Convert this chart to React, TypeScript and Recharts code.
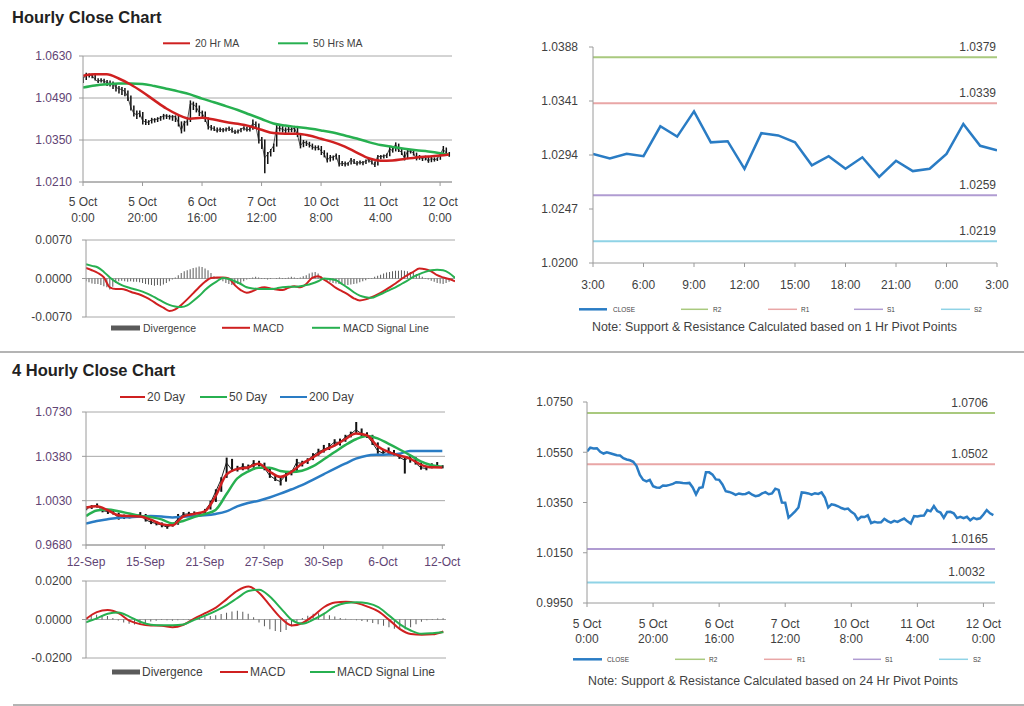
import React from 'react';
import { ComposedChart, Line, Bar, XAxis, YAxis, CartesianGrid, ReferenceLine } from 'recharts';

const FONT = "'Liberation Sans', Arial, Helvetica, sans-serif";
const GRID = '#a8a8a8';
const AXIS = '#9a9a9a';
const PURPLE = '#5f4474';
const GRAY = '#3f3f3f';
const RED = '#cf2020';
const GREEN = '#27b050';
const BLUE = '#2a7cc4';
const DIV = '#5a5a5a';
const R2C = '#a9c97e';
const R1C = '#e9a6a6';
const S1C = '#b09cd2';
const S2C = '#8fd3e6';

// ---------- Hourly (5 Oct 0:00 .. 12 Oct 3:00), index = hour ----------
const hourlyClose = [
  1.0553, 1.0568, 1.0565, 1.0566, 1.0552, 1.0545, 1.0550, 1.0546, 1.0542, 1.0538,
  1.0537, 1.0526, 1.0521, 1.0518, 1.0512, 1.0495, 1.0460, 1.0440, 1.0434, 1.0440,
  1.0415, 1.0410, 1.0409, 1.0418, 1.0417, 1.0420, 1.0424, 1.0431, 1.0430, 1.0428,
  1.0427, 1.0428, 1.0410, 1.0382, 1.0408, 1.0411, 1.0470, 1.0470, 1.0461, 1.0442,
  1.0440, 1.0422, 1.0395, 1.0392, 1.0387, 1.0380, 1.0386, 1.0383, 1.0384, 1.0390,
  1.0381, 1.0375, 1.0378, 1.0386, 1.0391, 1.0383, 1.0386, 1.0405, 1.0400, 1.0350,
  1.0349, 1.0290, 1.0302, 1.0315, 1.0330, 1.0390, 1.0389, 1.0386, 1.0381, 1.0387,
  1.0384, 1.0390, 1.0370, 1.0330, 1.0343, 1.0340, 1.0335, 1.0328, 1.0323, 1.0326,
  1.0313, 1.0304, 1.0282, 1.0293, 1.0292, 1.0299, 1.0268, 1.0273, 1.0270, 1.0271,
  1.0285, 1.0276, 1.0270, 1.0277, 1.0273, 1.0280, 1.0286, 1.0275, 1.0266, 1.0296,
  1.0294, 1.0297, 1.0298, 1.0320, 1.0315, 1.0336, 1.0316, 1.0310, 1.0289, 1.0312,
  1.0313, 1.0307, 1.0288, 1.0293, 1.0288, 1.0293, 1.0279, 1.0289, 1.0284, 1.0287,
  1.0302, 1.0320, 1.0307, 1.0300,
];
const hourlyHigh = [
  1.0562, 1.0574, 1.0572, 1.0571, 1.0568, 1.0556, 1.0556, 1.0554, 1.0550, 1.0548,
  1.0545, 1.0540, 1.0530, 1.0527, 1.0523, 1.0515, 1.0498, 1.0465, 1.0448, 1.0448,
  1.0443, 1.0420, 1.0416, 1.0424, 1.0423, 1.0426, 1.0430, 1.0437, 1.0436, 1.0434,
  1.0433, 1.0432, 1.0430, 1.0412, 1.0414, 1.0425, 1.0482, 1.0478, 1.0474, 1.0465,
  1.0448, 1.0445, 1.0425, 1.0400, 1.0396, 1.0392, 1.0392, 1.0390, 1.0392, 1.0395,
  1.0392, 1.0384, 1.0385, 1.0390, 1.0396, 1.0394, 1.0398, 1.0418, 1.0412, 1.0405,
  1.0360, 1.0352, 1.0310, 1.0320, 1.0338, 1.0402, 1.0398, 1.0396, 1.0392, 1.0394,
  1.0392, 1.0397, 1.0395, 1.0372, 1.0350, 1.0348, 1.0344, 1.0338, 1.0332, 1.0332,
  1.0330, 1.0316, 1.0308, 1.0300, 1.0298, 1.0305, 1.0300, 1.0280, 1.0278, 1.0276,
  1.0290, 1.0287, 1.0280, 1.0282, 1.0280, 1.0285, 1.0290, 1.0288, 1.0278, 1.0300,
  1.0300, 1.0302, 1.0305, 1.0328, 1.0330, 1.0342, 1.0338, 1.0320, 1.0312, 1.0318,
  1.0320, 1.0316, 1.0308, 1.0300, 1.0296, 1.0298, 1.0295, 1.0294, 1.0292, 1.0292,
  1.0308, 1.0330, 1.0325, 1.0310,
];
const hourlyLow = [
  1.0540, 1.0550, 1.0558, 1.0556, 1.0548, 1.0540, 1.0542, 1.0538, 1.0530, 1.0528,
  1.0520, 1.0512, 1.0505, 1.0500, 1.0496, 1.0480, 1.0448, 1.0428, 1.0420, 1.0426,
  1.0402, 1.0400, 1.0400, 1.0405, 1.0408, 1.0410, 1.0414, 1.0418, 1.0420, 1.0418,
  1.0414, 1.0410, 1.0395, 1.0372, 1.0378, 1.0398, 1.0410, 1.0450, 1.0442, 1.0430,
  1.0425, 1.0410, 1.0385, 1.0382, 1.0380, 1.0375, 1.0377, 1.0376, 1.0378, 1.0380,
  1.0374, 1.0370, 1.0372, 1.0376, 1.0382, 1.0378, 1.0378, 1.0384, 1.0390, 1.0338,
  1.0320, 1.0239, 1.0270, 1.0295, 1.0310, 1.0328, 1.0378, 1.0375, 1.0372, 1.0375,
  1.0376, 1.0375, 1.0360, 1.0322, 1.0326, 1.0330, 1.0325, 1.0318, 1.0315, 1.0316,
  1.0300, 1.0292, 1.0275, 1.0278, 1.0282, 1.0285, 1.0262, 1.0263, 1.0262, 1.0264,
  1.0268, 1.0270, 1.0265, 1.0268, 1.0266, 1.0270, 1.0275, 1.0268, 1.0260, 1.0265,
  1.0286, 1.0288, 1.0290, 1.0296, 1.0308, 1.0312, 1.0310, 1.0300, 1.0282, 1.0286,
  1.0305, 1.0298, 1.0282, 1.0284, 1.0280, 1.0282, 1.0274, 1.0276, 1.0278, 1.0280,
  1.0284, 1.0298, 1.0300, 1.0294,
];
const maHourIdx = [0, 4, 8, 12, 16, 20, 24, 28, 32, 36, 40, 44, 48, 52, 56, 60, 64, 68, 72, 76, 80, 84, 88, 92, 96, 100, 104, 108, 112, 116, 120, 123];
const ma20Hr = [
  1.0564, 1.0569, 1.0569, 1.0555, 1.0535, 1.0510, 1.0482, 1.0455, 1.0434, 1.0421,
  1.0424, 1.0418, 1.0410, 1.0404, 1.0396, 1.0384, 1.0373, 1.0371, 1.0371, 1.0365,
  1.0354, 1.0343, 1.0328, 1.0308, 1.0289, 1.0281, 1.0282, 1.0287, 1.0292, 1.0295,
  1.0298, 1.0302,
];
const ma50Hr = [
  1.0525, 1.0532, 1.0536, 1.0538, 1.0538, 1.0537, 1.0530, 1.0521, 1.0512, 1.0502,
  1.0488, 1.0476, 1.0463, 1.0450, 1.0435, 1.0420, 1.0405, 1.0398, 1.0393, 1.0388,
  1.0382, 1.0375, 1.0365, 1.0355, 1.0343, 1.0333, 1.0327, 1.0321, 1.0316, 1.0312,
  1.0306, 1.0300,
];
const macdHourIdx = Array.from({ length: 63 }, (_, k) => k * 2);
const macdHourly = [
  0.0019, 0.0015, 0.0010, 0.0002, -0.0016, -0.0019, -0.0019, -0.0022, -0.0026, -0.0029,
  -0.0034, -0.0040, -0.0047, -0.0053, -0.0059, -0.0056, -0.0048, -0.0038, -0.0027, -0.0016,
  -0.0006, 0.0001, 0.0002, 0.0002, 0.0000, -0.0012, -0.0021, -0.0026, -0.0023, -0.0018,
  -0.0016, -0.0018, -0.0020, -0.0021, -0.0017, -0.0014, -0.0016, -0.0010, 0.0001, 0.0004,
  -0.0002, -0.0009, -0.0017, -0.0023, -0.0029, -0.0036, -0.0040, -0.0038, -0.0034, -0.0029,
  -0.0023, -0.0016, -0.0009, -0.0001, 0.0006, 0.0012, 0.0018, 0.0017, 0.0013, 0.0006,
  0.0002, -0.0001, -0.0005,
];
const signalHourly = [
  0.0026, 0.0023, 0.0020, 0.0012, 0.0002, -0.0006, -0.0012, -0.0016, -0.0019, -0.0022,
  -0.0026, -0.0031, -0.0037, -0.0043, -0.0048, -0.0051, -0.0052, -0.0049, -0.0041, -0.0032,
  -0.0021, -0.0012, -0.0005, 0.0001, -0.0001, -0.0005, -0.0010, -0.0016, -0.0018, -0.0019,
  -0.0019, -0.0019, -0.0018, -0.0016, -0.0015, -0.0015, -0.0014, -0.0012, -0.0009, -0.0005,
  0.0000, -0.0001, -0.0003, -0.0010, -0.0017, -0.0025, -0.0031, -0.0034, -0.0035, -0.0031,
  -0.0026, -0.0021, -0.0016, -0.0010, -0.0004, 0.0003, 0.0008, 0.0012, 0.0015, 0.0016,
  0.0015, 0.0010, 0.0001,
];
const divergenceHourly = [
  -0.0005, -0.0007, -0.0009, -0.0010, -0.0010, -0.0012, -0.0014, -0.0016, -0.0020, -0.0015,
  -0.0008, -0.0005, -0.0004, -0.0005, -0.0006, -0.0005, -0.0006, -0.0006, -0.0007, -0.0008,
  -0.0010, -0.0011, -0.0012, -0.0013, -0.0012, -0.0013, -0.0011, -0.0008, -0.0005, -0.0002,
  0.0002, 0.0006, 0.0010, 0.0013, 0.0015, 0.0017, 0.0019, 0.0020, 0.0022, 0.0021,
  0.0018, 0.0015, 0.0010, 0.0004, 0.0001, -0.0002, -0.0005, -0.0008, -0.0010, -0.0012,
  -0.0011, -0.0010, -0.0008, -0.0005, -0.0002, 0.0001, 0.0002, 0.0003, 0.0002, 0.0001,
  -0.0001, -0.0002, -0.0001, 0.0000, 0.0001, 0.0002, 0.0001, 0.0001, 0.0002, 0.0003,
  0.0002, 0.0001, 0.0002, 0.0004, 0.0006, 0.0009, 0.0011, 0.0012, 0.0009, 0.0004,
  -0.0001, -0.0004, -0.0006, -0.0008, -0.0009, -0.0010, -0.0011, -0.0012, -0.0012, -0.0011,
  -0.0010, -0.0009, -0.0007, -0.0005, -0.0003, -0.0001, 0.0001, 0.0003, 0.0005, 0.0007,
  0.0009, 0.0011, 0.0012, 0.0013, 0.0014, 0.0014, 0.0015, 0.0014, 0.0013, 0.0012,
  0.0010, 0.0008, 0.0006, 0.0003, 0.0001, -0.0002, -0.0004, -0.0006, -0.0008, -0.0009,
  -0.0010, -0.0008, -0.0006, -0.0004,
];
const hourTicks = [0, 20, 40, 60, 80, 100, 120];
const hourTickDay = ['5 Oct', '5 Oct', '6 Oct', '7 Oct', '10 Oct', '11 Oct', '12 Oct'];
const hourTickTime = ['0:00', '20:00', '16:00', '12:00', '8:00', '4:00', '0:00'];
const hourPriceTicks = [1.021, 1.035, 1.049, 1.063];
const hourMacdTicks = [-0.007, 0, 0.007];

// ---------- 4 Hourly (12 Sep .. 12 Oct), index = 4h bar ----------
const close4h = [
  0.9968, 0.9980, 0.9995, 0.9950, 0.9945, 0.9935, 0.9895, 0.9903, 0.9905, 0.9910,
  0.9920, 0.9880, 0.9860, 0.9850, 0.9837, 0.9822, 0.9840, 0.9885, 0.9922, 0.9926,
  0.9928, 0.9924, 0.9950, 1.0008, 1.0100, 1.0195, 1.0330, 1.0275, 1.0280, 1.0300,
  1.0292, 1.0325, 1.0318, 1.0290, 1.0230, 1.0200, 1.0180, 1.0232, 1.0250, 1.0330,
  1.0325, 1.0345, 1.0385, 1.0415, 1.0433, 1.0455, 1.0492, 1.0490, 1.0530, 1.0555,
  1.0590, 1.0560, 1.0545, 1.0490, 1.0425, 1.0405, 1.0425, 1.0400, 1.0375, 1.0350,
  1.0372, 1.0330, 1.0290, 1.0285, 1.0305, 1.0300, 1.0292,
];
const high4h = [
  0.9985, 0.9995, 1.0008, 0.9980, 0.9962, 0.9955, 0.9935, 0.9920, 0.9918, 0.9925,
  0.9940, 0.9925, 0.9880, 0.9868, 0.9858, 0.9845, 0.9855, 0.9925, 0.9940, 0.9942,
  0.9945, 0.9940, 0.9965, 1.0030, 1.0120, 1.0215, 1.0370, 1.0360, 1.0305, 1.0325,
  1.0315, 1.0350, 1.0345, 1.0330, 1.0290, 1.0235, 1.0210, 1.0250, 1.0270, 1.0360,
  1.0345, 1.0365, 1.0405, 1.0440, 1.0470, 1.0485, 1.0515, 1.0520, 1.0550, 1.0575,
  1.0651, 1.0600, 1.0570, 1.0550, 1.0490, 1.0430, 1.0450, 1.0430, 1.0400, 1.0380,
  1.0390, 1.0375, 1.0330, 1.0305, 1.0325, 1.0335, 1.0310,
];
const low4h = [
  0.9955, 0.9965, 0.9975, 0.9938, 0.9925, 0.9920, 0.9880, 0.9885, 0.9890, 0.9895,
  0.9900, 0.9865, 0.9845, 0.9835, 0.9820, 0.9808, 0.9825, 0.9840, 0.9905, 0.9912,
  0.9915, 0.9910, 0.9930, 0.9960, 1.0020, 1.0100, 1.0210, 1.0260, 1.0260, 1.0270,
  1.0275, 1.0290, 1.0300, 1.0270, 1.0210, 1.0185, 1.0150, 1.0180, 1.0230, 1.0260,
  1.0300, 1.0320, 1.0350, 1.0385, 1.0410, 1.0430, 1.0460, 1.0465, 1.0495, 1.0530,
  1.0560, 1.0540, 1.0525, 1.0470, 1.0400, 1.0390, 1.0395, 1.0385, 1.0360, 1.0244,
  1.0330, 1.0315, 1.0275, 1.0270, 1.0285, 1.0290, 1.0285,
];
const ma20Day = [
  0.9976, 0.9985, 0.9955, 0.9915, 0.9908, 0.9905, 0.9880, 0.9845, 0.9835, 0.9905,
  0.9925, 0.9945, 1.0065, 1.0235, 1.0280, 1.0292, 1.0322, 1.0260, 1.0218, 1.0255,
  1.0322, 1.0370, 1.0425, 1.0465, 1.0515, 1.0560, 1.0546, 1.0460, 1.0415, 1.0387,
  1.0362, 1.0315, 1.0293, 1.0292,
];
const ma50Day = [
  0.9908, 0.9952, 0.9960, 0.9947, 0.9928, 0.9910, 0.9900, 0.9882, 0.9850, 0.9870,
  0.9900, 0.9925, 0.9957, 1.0080, 1.0205, 1.0260, 1.0290, 1.0290, 1.0265, 1.0257,
  1.0266, 1.0300, 1.0355, 1.0412, 1.0468, 1.0515, 1.0540, 1.0522, 1.0480, 1.0436,
  1.0390, 1.0340, 1.0310, 1.0297,
];
const ma200Day = [
  0.9850, 0.9870, 0.9883, 0.9895, 0.9900, 0.9905, 0.9908, 0.9905, 0.9898, 0.9903,
  0.9908, 0.9914, 0.9925, 0.9945, 0.9985, 1.0012, 1.0030, 1.0055, 1.0085, 1.0118,
  1.0152, 1.0195, 1.0238, 1.0281, 1.0322, 1.0362, 1.0385, 1.0392, 1.0394, 1.0400,
  1.0423, 1.0423, 1.0423, 1.0423,
];
const macd4h = [
  0.0003, 0.0038, 0.0049, 0.0033, -0.0006, -0.0024, -0.0031, -0.0032, -0.0040, -0.0027,
  0.0005, 0.0033, 0.0062, 0.0106, 0.0150, 0.0171, 0.0138, 0.0072, 0.0008, -0.0031,
  -0.0018, 0.0019, 0.0065, 0.0088, 0.0092, 0.0085, 0.0067, 0.0042, -0.0002, -0.0050,
  -0.0075, -0.0079, -0.0077, -0.0062,
];
const signal4h = [
  -0.0014, 0.0006, 0.0030, 0.0036, 0.0015, -0.0012, -0.0027, -0.0030, -0.0030, -0.0026,
  -0.0002, 0.0020, 0.0045, 0.0075, 0.0112, 0.0148, 0.0155, 0.0118, 0.0058, -0.0002,
  -0.0022, -0.0001, 0.0030, 0.0068, 0.0086, 0.0090, 0.0084, 0.0064, 0.0020, -0.0025,
  -0.0057, -0.0074, -0.0071, -0.0066,
];
const divergence4h = [
  0.0012, 0.0020, 0.0025, 0.0022, 0.0018, 0.0008, -0.0005, -0.0015, -0.0022, -0.0026,
  -0.0025, -0.0018, -0.0010, -0.0006, -0.0003, -0.0004, -0.0006, -0.0004, -0.0001, 0.0003,
  0.0008, 0.0012, 0.0015, 0.0018, 0.0022, 0.0028, 0.0035, 0.0042, 0.0045, 0.0040,
  0.0030, 0.0012, -0.0015, -0.0035, -0.0050, -0.0060, -0.0065, -0.0055, -0.0035, -0.0012,
  0.0008, 0.0020, 0.0030, 0.0033, 0.0030, 0.0022, 0.0015, 0.0008, 0.0004, -0.0001,
  -0.0004, -0.0008, -0.0012, -0.0018, -0.0025, -0.0032, -0.0040, -0.0048, -0.0053, -0.0050,
  -0.0040, -0.0025, -0.0012, -0.0004, 0.0002, 0.0005, 0.0006,
];
const bar4hIdx = close4h.map((_, k) => k * 2);
const ma4hIdx = ma20Day.map((_, k) => k * 4);
const fourHourTicks = [0, 22, 44, 66, 88, 110, 132];
const fourHourTickLabels = ['12-Sep', '15-Sep', '21-Sep', '27-Sep', '30-Sep', '6-Oct', '12-Oct'];
const fourHourPriceTicks = [0.968, 1.003, 1.038, 1.073];
const fourHourMacdTicks = [-0.02, 0, 0.02];

// ---------- 1 Hr pivot chart (last 24 hours) ----------
const pivotClose = [
  1.0295, 1.0291, 1.0295, 1.0293, 1.0319, 1.0310, 1.0332, 1.0305, 1.0306, 1.0282,
  1.0313, 1.0311, 1.0305, 1.0285, 1.0293, 1.0282, 1.0292, 1.0275, 1.0289, 1.0280,
  1.0282, 1.0295, 1.0321, 1.0302, 1.0298,
];
const pivotTicks = [0, 3, 6, 9, 12, 15, 18, 21, 24];
const pivotTickLabels = ['3:00', '6:00', '9:00', '12:00', '15:00', '18:00', '21:00', '0:00', '3:00'];
const pivotYTicks = [1.02, 1.0247, 1.0294, 1.0341, 1.0388];
const pivot1h = { R2: 1.0379, R1: 1.0339, S1: 1.0259, S2: 1.0219 };

// ---------- 24 Hr pivot chart ----------
const pivot24YTicks = [0.995, 1.015, 1.035, 1.055, 1.075];
const pivot24h = { R2: 1.0706, R1: 1.0502, S1: 1.0165, S2: 1.0032 };

// ---------- build tables for the library ----------
type Series = { key: string; xs: number[]; vals: any[] };
function buildRows(series: Series[]) {
  const map = new Map<number, any>();
  series.forEach(({ key, xs, vals }) => {
    xs.forEach((x, i) => {
      const r = map.get(x) ?? { x };
      r[key] = vals[i];
      map.set(x, r);
    });
  });
  return Array.from(map.values()).sort((a, b) => a.x - b.x);
}
const hourIdx = hourlyClose.map((_, i) => i);
const hourlyRows = buildRows([
  { key: 'close', xs: hourIdx, vals: hourlyClose },
  { key: 'range', xs: hourIdx, vals: hourIdx.map((i) => [hourlyLow[i], hourlyHigh[i]]) },
  { key: 'ma20', xs: maHourIdx, vals: ma20Hr },
  { key: 'ma50', xs: maHourIdx, vals: ma50Hr },
]);
const hourlyMacdRows = buildRows([
  { key: 'div', xs: hourIdx, vals: divergenceHourly },
  { key: 'macd', xs: macdHourIdx, vals: macdHourly },
  { key: 'signal', xs: macdHourIdx, vals: signalHourly },
]);
const fourRows = buildRows([
  { key: 'close', xs: bar4hIdx, vals: close4h },
  { key: 'range', xs: bar4hIdx, vals: bar4hIdx.map((_, k) => [low4h[k], high4h[k]]) },
  { key: 'ma20', xs: ma4hIdx, vals: ma20Day },
  { key: 'ma50', xs: ma4hIdx, vals: ma50Day },
  { key: 'ma200', xs: ma4hIdx, vals: ma200Day },
]);
const fourMacdRows = buildRows([
  { key: 'div', xs: bar4hIdx, vals: divergence4h },
  { key: 'macd', xs: ma4hIdx, vals: macd4h },
  { key: 'signal', xs: ma4hIdx, vals: signal4h },
]);
const pivotRows = pivotClose.map((c, i) => ({ x: i, close: c }));

// ---------- small render helpers ----------
const TwoLineTick = (props: any) => {
  const { x, y, payload, ticks, top, bottom, color, d1, d2 } = props;
  const i = ticks.indexOf(payload.value);
  return (
    <text x={x} y={y} textAnchor="middle" fill={color} fontSize={12} fontFamily={FONT}>
      <tspan x={x} dy={d1}>{top[i]}</tspan>
      <tspan x={x} dy={d2}>{bottom[i]}</tspan>
    </text>
  );
};
const OneLineTick = (props: any) => {
  const { x, y, payload, ticks, labels, color, d1 } = props;
  const i = ticks.indexOf(payload.value);
  return (
    <text x={x} y={y + d1} textAnchor="middle" fill={color} fontSize={12} fontFamily={FONT}>
      {labels[i]}
    </text>
  );
};
const PivotLabel = (props: any) => {
  const vb = props.viewBox || { x: 0, y: 0, width: 0 };
  return (
    <text x={vb.x + vb.width - props.inset} y={vb.y - 6} textAnchor="end" fontSize={12} fill={GRAY} fontFamily={FONT}>
      {props.text}
    </text>
  );
};
const fmt4 = (v: number) => v.toFixed(4);
const axisStyle = { stroke: AXIS };
const tickStyle = (fill: string) => ({ fill, fontSize: 12, fontFamily: FONT });

const Pos = ({ left, top, children }: any) => (
  <div style={{ position: 'absolute', left, top }}>{children}</div>
);

export default function App() {
  return (
    <div style={{ position: 'absolute', left: 0, top: 0, width: 1024, height: 706, background: '#fff', overflow: 'hidden', fontFamily: FONT }}>
      {/* Hourly price */}
      <Pos left={0} top={0}>
        <ComposedChart width={480} height={230} data={hourlyRows} margin={{ top: 56, right: 28, bottom: 0, left: 0 }}>
          <CartesianGrid vertical={false} stroke={GRID} />
          <XAxis dataKey="x" type="number" domain={[0, 124]} allowDataOverflow ticks={hourTicks} interval={0} height={48}
            tickSize={4} tickMargin={0} axisLine={axisStyle} tickLine={axisStyle}
            tick={(p: any) => <TwoLineTick {...p} ticks={hourTicks} top={hourTickDay} bottom={hourTickTime} color={GRAY} d1={20} d2={16} />} />
          <YAxis type="number" domain={[1.021, 1.063]} allowDataOverflow ticks={hourPriceTicks} interval={0} width={83}
            tickSize={4} tickMargin={7} tickFormatter={fmt4} axisLine={axisStyle} tickLine={axisStyle} tick={tickStyle(PURPLE)} />
          <Bar dataKey="range" fill="#111" barSize={1.5} isAnimationActive={false} />
          <Line dataKey="close" stroke="#222" strokeWidth={0.8} dot={false} type="linear" isAnimationActive={false} />
          <Line dataKey="ma50" stroke={GREEN} strokeWidth={2.5} dot={false} connectNulls type="monotone" isAnimationActive={false} />
          <Line dataKey="ma20" stroke={RED} strokeWidth={2.5} dot={false} connectNulls type="monotone" isAnimationActive={false} />
        </ComposedChart>
      </Pos>

      {/* Hourly MACD */}
      <Pos left={0} top={230}>
        <ComposedChart width={480} height={100} data={hourlyMacdRows} margin={{ top: 10, right: 25, bottom: 13, left: 0 }}>
          <CartesianGrid vertical={false} stroke={GRID} />
          <XAxis dataKey="x" type="number" domain={[0, 124]} allowDataOverflow hide />
          <YAxis type="number" domain={[-0.007, 0.007]} allowDataOverflow ticks={hourMacdTicks} interval={0} width={86}
            tickSize={4} tickMargin={10} tickFormatter={fmt4} axisLine={axisStyle} tickLine={axisStyle} tick={tickStyle(GRAY)} />
          <Bar dataKey="div" fill={DIV} barSize={1} isAnimationActive={false} />
          <Line dataKey="macd" stroke={RED} strokeWidth={2} dot={false} connectNulls type="monotone" isAnimationActive={false} />
          <Line dataKey="signal" stroke={GREEN} strokeWidth={2} dot={false} connectNulls type="monotone" isAnimationActive={false} />
        </ComposedChart>
      </Pos>

      {/* 1 Hr pivot chart */}
      <Pos left={520} top={30}>
        <ComposedChart width={504} height={275} data={pivotRows} margin={{ top: 17, right: 27, bottom: 0, left: 0 }}>
          <XAxis dataKey="x" type="number" domain={[0, 24]} allowDataOverflow ticks={pivotTicks} interval={0} height={42}
            tickSize={4} tickMargin={0} axisLine={axisStyle} tickLine={axisStyle}
            tick={(p: any) => <OneLineTick {...p} ticks={pivotTicks} labels={pivotTickLabels} color={GRAY} d1={22} />} />
          <YAxis type="number" domain={[1.02, 1.0388]} allowDataOverflow ticks={pivotYTicks} interval={0} width={73}
            tickSize={4} tickMargin={11} tickFormatter={fmt4} axisLine={axisStyle} tickLine={axisStyle} tick={tickStyle(GRAY)} />
          <ReferenceLine y={pivot1h.R2} stroke={R2C} strokeWidth={2} label={<PivotLabel text={fmt4(pivot1h.R2)} inset={1} />} />
          <ReferenceLine y={pivot1h.R1} stroke={R1C} strokeWidth={2} label={<PivotLabel text={fmt4(pivot1h.R1)} inset={1} />} />
          <ReferenceLine y={pivot1h.S1} stroke={S1C} strokeWidth={2} label={<PivotLabel text={fmt4(pivot1h.S1)} inset={1} />} />
          <ReferenceLine y={pivot1h.S2} stroke={S2C} strokeWidth={2} label={<PivotLabel text={fmt4(pivot1h.S2)} inset={1} />} />
          <Line dataKey="close" stroke={BLUE} strokeWidth={2.5} dot={false} type="linear" isAnimationActive={false} />
        </ComposedChart>
      </Pos>

      {/* 4 Hourly price */}
      <Pos left={0} top={380}>
        <ComposedChart width={480} height={200} data={fourRows} margin={{ top: 32, right: 35, bottom: 0, left: 0 }}>
          <CartesianGrid vertical={false} stroke={GRID} />
          <XAxis dataKey="x" type="number" domain={[0, 133]} allowDataOverflow ticks={fourHourTicks} interval={0} height={35}
            tickSize={4} tickMargin={0} axisLine={axisStyle} tickLine={axisStyle}
            tick={(p: any) => <OneLineTick {...p} ticks={fourHourTicks} labels={fourHourTickLabels} color={PURPLE} d1={17} />} />
          <YAxis type="number" domain={[0.968, 1.073]} allowDataOverflow ticks={fourHourPriceTicks} interval={0} width={86}
            tickSize={4} tickMargin={10} tickFormatter={fmt4} axisLine={axisStyle} tickLine={axisStyle} tick={tickStyle(PURPLE)} />
          <Bar dataKey="range" fill="#111" barSize={2} isAnimationActive={false} />
          <Line dataKey="close" stroke="#222" strokeWidth={1} dot={false} type="linear" isAnimationActive={false} />
          <Line dataKey="ma200" stroke={BLUE} strokeWidth={2.5} dot={false} connectNulls type="monotone" isAnimationActive={false} />
          <Line dataKey="ma50" stroke={GREEN} strokeWidth={2.5} dot={false} connectNulls type="monotone" isAnimationActive={false} />
          <Line dataKey="ma20" stroke={RED} strokeWidth={2.5} dot={false} connectNulls type="monotone" isAnimationActive={false} />
        </ComposedChart>
      </Pos>

      {/* 4 Hourly MACD */}
      <Pos left={0} top={575}>
        <ComposedChart width={480} height={95} data={fourMacdRows} margin={{ top: 6, right: 34, bottom: 12, left: 0 }}>
          <CartesianGrid vertical={false} stroke={GRID} />
          <XAxis dataKey="x" type="number" domain={[0, 133]} allowDataOverflow hide />
          <YAxis type="number" domain={[-0.02, 0.02]} allowDataOverflow ticks={fourHourMacdTicks} interval={0} width={86}
            tickSize={4} tickMargin={10} tickFormatter={fmt4} axisLine={axisStyle} tickLine={axisStyle} tick={tickStyle(GRAY)} />
          <Bar dataKey="div" fill={DIV} barSize={1} isAnimationActive={false} />
          <Line dataKey="macd" stroke={RED} strokeWidth={2} dot={false} connectNulls type="monotone" isAnimationActive={false} />
          <Line dataKey="signal" stroke={GREEN} strokeWidth={2} dot={false} connectNulls type="monotone" isAnimationActive={false} />
        </ComposedChart>
      </Pos>

      {/* 24 Hr pivot chart */}
      <Pos left={520} top={385}>
        <ComposedChart width={504} height={270} data={hourlyRows} margin={{ top: 17, right: 29, bottom: 0, left: 0 }}>
          <XAxis dataKey="x" type="number" domain={[0, 123.5]} allowDataOverflow ticks={hourTicks} interval={0} height={52}
            tickSize={4} tickMargin={0} axisLine={axisStyle} tickLine={axisStyle}
            tick={(p: any) => <TwoLineTick {...p} ticks={hourTicks} top={hourTickDay} bottom={hourTickTime} color={GRAY} d1={21} d2={15} />} />
          <YAxis type="number" domain={[0.995, 1.075]} allowDataOverflow ticks={pivot24YTicks} interval={0} width={67}
            tickSize={4} tickMargin={10} tickFormatter={fmt4} axisLine={axisStyle} tickLine={axisStyle} tick={tickStyle(GRAY)} />
          <ReferenceLine y={pivot24h.R2} stroke={R2C} strokeWidth={2} label={<PivotLabel text={fmt4(pivot24h.R2)} inset={7} />} />
          <ReferenceLine y={pivot24h.R1} stroke={R1C} strokeWidth={2} label={<PivotLabel text={fmt4(pivot24h.R1)} inset={7} />} />
          <ReferenceLine y={pivot24h.S1} stroke={S1C} strokeWidth={2} label={<PivotLabel text={fmt4(pivot24h.S1)} inset={7} />} />
          <ReferenceLine y={pivot24h.S2} stroke={S2C} strokeWidth={2} label={<PivotLabel text={fmt4(pivot24h.S2)} inset={10} />} />
          <Line dataKey="close" stroke={BLUE} strokeWidth={2.5} dot={false} type="linear" isAnimationActive={false} />
        </ComposedChart>
      </Pos>

      {/* titles, legends, separators */}
      <svg width={1024} height={706} style={{ position: 'absolute', left: 0, top: 0, pointerEvents: 'none' }} fontFamily={FONT}>
        <text x={12} y={22.7} fontSize={16.5} fontWeight="bold" fill="#222">Hourly Close Chart</text>
        <text x={12} y={375.7} fontSize={16.5} fontWeight="bold" fill="#222">4 Hourly Close Chart</text>
        <line x1={0} y1={352} x2={1024} y2={352} stroke="#b4b4b4" strokeWidth={2} />
        <line x1={13} y1={705} x2={1024} y2={705} stroke="#b4b4b4" strokeWidth={2} />

        {/* hourly MA legend */}
        <line x1={163} y1={43.3} x2={190} y2={43.3} stroke={RED} strokeWidth={2} />
        <text x={195} y={47} fontSize={10.5} fill={GRAY}>20 Hr MA</text>
        <line x1={278} y1={43.3} x2={308} y2={43.3} stroke={GREEN} strokeWidth={2} />
        <text x={313} y={47} fontSize={10.5} fill={GRAY}>50 Hrs MA</text>

        {/* hourly MACD legend */}
        <rect x={111} y={325.5} width={29} height={5} fill={DIV} />
        <text x={143} y={331.5} fontSize={10.5} fill={GRAY}>Divergence</text>
        <line x1={222} y1={327.8} x2={250} y2={327.8} stroke={RED} strokeWidth={2} />
        <text x={253} y={331.5} fontSize={10.5} fill={GRAY}>MACD</text>
        <line x1={312} y1={327.8} x2={340} y2={327.8} stroke={GREEN} strokeWidth={2} />
        <text x={343} y={331.5} fontSize={10.5} fill={GRAY}>MACD Signal Line</text>

        {/* 1 hr pivot legend */}
        <line x1={579} y1={309.3} x2={607} y2={309.3} stroke={BLUE} strokeWidth={2.5} />
        <text x={613} y={311.6} fontSize={6.5} fill={GRAY}>CLOSE</text>
        <line x1={681} y1={309.3} x2={708} y2={309.3} stroke={R2C} strokeWidth={1.5} />
        <text x={713} y={311.6} fontSize={6.5} fill={GRAY}>R2</text>
        <line x1={768} y1={309.3} x2={797} y2={309.3} stroke={R1C} strokeWidth={1.5} />
        <text x={801} y={311.6} fontSize={6.5} fill={GRAY}>R1</text>
        <line x1={854} y1={309.3} x2={883} y2={309.3} stroke={S1C} strokeWidth={1.5} />
        <text x={887} y={311.6} fontSize={6.5} fill={GRAY}>S1</text>
        <line x1={941} y1={309.3} x2={970} y2={309.3} stroke={S2C} strokeWidth={1.5} />
        <text x={974} y={311.6} fontSize={6.5} fill={GRAY}>S2</text>
        <text x={592} y={331} fontSize={12} fill={GRAY} textLength={365} lengthAdjust="spacingAndGlyphs">Note: Support &amp; Resistance Calculated based on 1 Hr Pivot Points</text>

        {/* 4 hourly MA legend */}
        <line x1={120} y1={397} x2={145} y2={397} stroke={RED} strokeWidth={2} />
        <text x={147} y={401.3} fontSize={12} fill={GRAY}>20 Day</text>
        <line x1={200} y1={397} x2={227} y2={397} stroke={GREEN} strokeWidth={2} />
        <text x={229} y={401.3} fontSize={12} fill={GRAY}>50 Day</text>
        <line x1={280} y1={397} x2={307} y2={397} stroke={BLUE} strokeWidth={2} />
        <text x={309} y={401.3} fontSize={12} fill={GRAY}>200 Day</text>

        {/* 4 hourly MACD legend */}
        <rect x={112} y={669.5} width={28} height={5} fill={DIV} />
        <text x={142} y={676.3} fontSize={12} fill={GRAY}>Divergence</text>
        <line x1={220} y1={672} x2={248} y2={672} stroke={RED} strokeWidth={2} />
        <text x={250} y={676.3} fontSize={12} fill={GRAY}>MACD</text>
        <line x1={310} y1={672} x2={335} y2={672} stroke={GREEN} strokeWidth={2} />
        <text x={337} y={676.3} fontSize={12} fill={GRAY}>MACD Signal Line</text>

        {/* 24 hr pivot legend */}
        <line x1={573} y1={659.3} x2={602} y2={659.3} stroke={BLUE} strokeWidth={2.5} />
        <text x={607} y={661.6} fontSize={6.5} fill={GRAY}>CLOSE</text>
        <line x1={675} y1={659.3} x2={705} y2={659.3} stroke={R2C} strokeWidth={1.5} />
        <text x={709} y={661.6} fontSize={6.5} fill={GRAY}>R2</text>
        <line x1={764} y1={659.3} x2={792} y2={659.3} stroke={R1C} strokeWidth={1.5} />
        <text x={797} y={661.6} fontSize={6.5} fill={GRAY}>R1</text>
        <line x1={853} y1={659.3} x2={881} y2={659.3} stroke={S1C} strokeWidth={1.5} />
        <text x={885} y={661.6} fontSize={6.5} fill={GRAY}>S1</text>
        <line x1={939} y1={659.3} x2={968} y2={659.3} stroke={S2C} strokeWidth={1.5} />
        <text x={973} y={661.6} fontSize={6.5} fill={GRAY}>S2</text>
        <text x={588} y={685} fontSize={12} fill={GRAY} textLength={370} lengthAdjust="spacingAndGlyphs">Note: Support &amp; Resistance Calculated based on 24 Hr Pivot Points</text>
      </svg>
    </div>
  );
}
